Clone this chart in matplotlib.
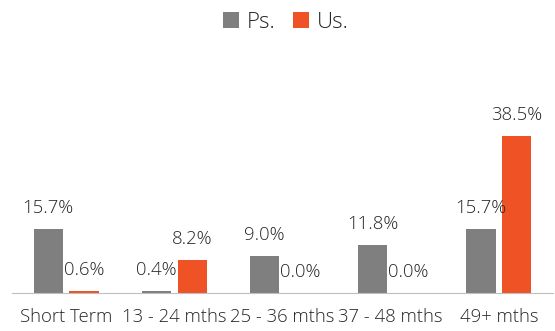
import matplotlib.pyplot as plt
import numpy as np

plt.rcParams['font.family'] = ['Open Sans', 'DejaVu Sans']
plt.rcParams['font.weight'] = 'light'

categories = ['Short Term', '13 - 24 mths', '25 - 36 mths', '37 - 48 mths', '49+ mths']
ps_vals = [15.7, 0.4, 9.0, 11.8, 15.7]
us_vals = [0.6, 8.2, 0.0, 0.0, 38.5]

gray = '#7f7f7f'
orange = '#ef5325'

fig = plt.figure(figsize=(5.55, 3.31), dpi=100)
ax = fig.add_axes([12/555, 38/331, 541/555, 0.555])

x = np.arange(len(categories))
w = 0.27
off = 0.166
b1 = ax.bar(x - off, ps_vals, w, color=gray, label='Ps.')
b2 = ax.bar(x + off, us_vals, w, color=orange, label='Us.')

for bars, vals in ((b1, ps_vals), (b2, us_vals)):
    for b, v in zip(bars, vals):
        ax.annotate(f'{v:.1f}%', (b.get_x() + b.get_width() / 2, v),
                    xytext=(0, 12), textcoords='offset pixels',
                    ha='center', va='bottom', fontsize=13.3, color='#262626')

ax.set_xlim(-0.5, 4.5)
ax.set_ylim(0, 45)
ax.set_xticks(x)
ax.set_xticklabels(categories, fontsize=13.3, color='#262626')
ax.tick_params(axis='x', length=0, pad=11)
ax.set_yticks([])
for s in ['top', 'right', 'left']:
    ax.spines[s].set_visible(False)
ax.spines['bottom'].set_color('#bfbfbf')

fig.legend(loc='upper center', bbox_to_anchor=(0.515, 1.025), ncol=2, frameon=False,
           fontsize=16, handlelength=0.7, handleheight=0.7, handletextpad=0.35,
           columnspacing=0.8, labelcolor='#262626')

fig.savefig('out.png', dpi=100)
